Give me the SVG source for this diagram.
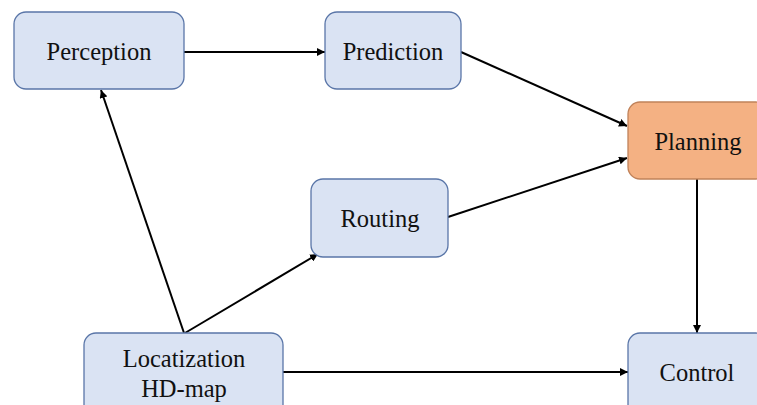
<svg xmlns="http://www.w3.org/2000/svg" width="757" height="405" viewBox="0 0 757 405">
  <defs>
    <marker id="arrow" viewBox="0 0 10 10" refX="10" refY="5" markerWidth="8" markerHeight="8" markerUnits="userSpaceOnUse" orient="auto">
      <path d="M0,0 L10,5 L0,10 z" fill="#000"/>
    </marker>
  </defs>
  <style>
    .node rect { fill: #dae3f3; stroke: #5a76a8; stroke-width: 1.3; }
    .node.hot rect { fill: #f4b183; stroke: #c0825a; }
    .node text { font-family: "Liberation Serif", "Times New Roman", serif; font-size: 24.5px; fill: #111; text-anchor: middle; dominant-baseline: central; }
    .edges line { stroke: #000; stroke-width: 2; marker-end: url(#arrow); }
  </style>
  <rect width="757" height="405" fill="#fff"/>

  <g class="edges">
    <line x1="184" y1="52" x2="325" y2="52"/>
    <line x1="461" y1="52" x2="627" y2="126"/>
    <line x1="448" y1="217" x2="627" y2="158"/>
    <line x1="697" y1="179" x2="697" y2="333"/>
    <line x1="283" y1="372" x2="628" y2="372"/>
    <line x1="185" y1="333" x2="318" y2="254"/>
    <line x1="184" y1="333" x2="101" y2="90"/>
  </g>

  <g id="perception" class="node">
    <rect x="14" y="12" width="170" height="77" rx="12"/>
    <text x="99" y="51">Perception</text>
  </g>
  <g id="prediction" class="node">
    <rect x="325" y="12" width="136" height="77" rx="12"/>
    <text x="393" y="51">Prediction</text>
  </g>
  <g id="planning" class="node hot">
    <rect x="628" y="102" width="140" height="77" rx="12"/>
    <text x="698" y="141">Planning</text>
  </g>
  <g id="routing" class="node">
    <rect x="311" y="179" width="137" height="78" rx="12"/>
    <text x="380" y="218">Routing</text>
  </g>
  <g id="localization" class="node">
    <rect x="84" y="333" width="199" height="90" rx="12"/>
    <text x="184" y="358">Locatization</text>
    <text x="184" y="388">HD-map</text>
  </g>
  <g id="control" class="node">
    <rect x="628" y="333" width="140" height="90" rx="12"/>
    <text x="697" y="372">Control</text>
  </g>
</svg>
